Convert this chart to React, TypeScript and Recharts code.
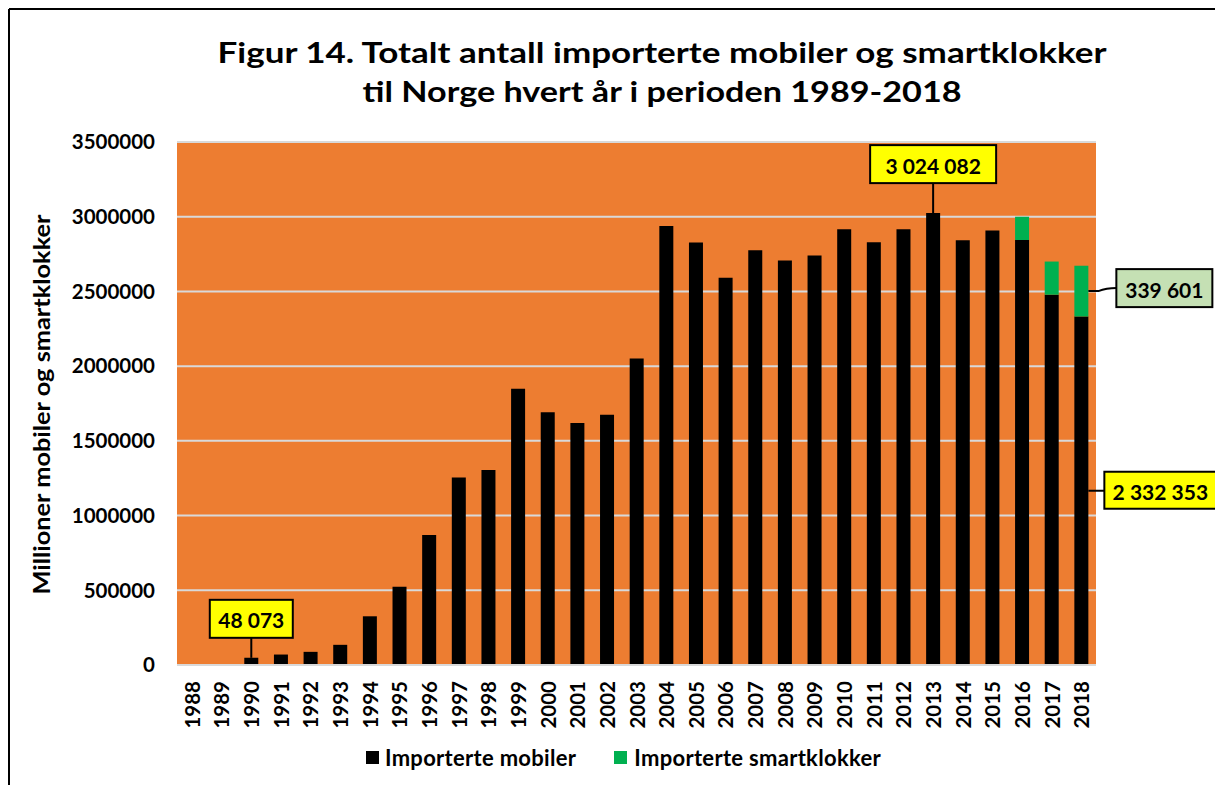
import React from 'react';
import { BarChart, Bar, XAxis, YAxis, CartesianGrid, Legend } from 'recharts';

const years = ['1988','1989','1990','1991','1992','1993','1994','1995','1996','1997','1998','1999','2000','2001','2002','2003','2004','2005','2006','2007','2008','2009','2010','2011','2012','2013','2014','2015','2016','2017','2018'];
const mobiles = [0,0,48073,70000,88000,135000,326000,523000,870000,1255000,1305000,1848000,1692000,1619000,1674000,2051000,2938000,2827000,2591000,2776000,2707000,2740000,2916000,2829000,2916000,3024082,2842000,2907000,2844000,2478000,2332353];
const smartwatches = [0,0,0,0,0,0,0,0,0,0,0,0,0,0,0,0,0,0,0,0,0,0,0,0,0,0,0,0,156000,222000,339601];
const yTicks = [0,500000,1000000,1500000,2000000,2500000,3000000,3500000];
const titleLines = ['Figur 14. Totalt antall importerte mobiler og smartklokker', 'til Norge hvert år i perioden 1989-2018'];
const yAxisTitle = 'Millioner mobiler og smartklokker';
const seriesNames = ['Importerte mobiler', 'Importerte smartklokker'];
const mobileLabelYears = ['1990', '2013', '2018'];
const smartLabelYears = ['2018'];

const data = years.map((y, i) => ({ year: y, mobiles: mobiles[i], smart: smartwatches[i] }));

const FONT = 'Lato, "Open Sans", sans-serif';
const ORANGE = '#ED7D31';
const GREEN = '#00B050';
const GRID = '#D9D9D9';

const fmt = (v: number) => String(v).replace(/\B(?=(\d{3})+(?!\d))/g, ' ');

const Box = ({ x, y, w, h, fill, text }: any) => (
  <g>
    <rect x={x} y={y} width={w} height={h} fill={fill} stroke="#000" strokeWidth={2} />
    <text x={x + w / 2} y={y + h / 2 + 1} textAnchor="middle" dominantBaseline="central" fontFamily={FONT} fontWeight={700} fontSize={21} fill="#000">{text}</text>
  </g>
);

const getRect = (p: any) => {
  const vb = p.viewBox && p.viewBox.width !== undefined ? p.viewBox : p;
  let { x, y, width, height } = vb;
  if (height < 0) { y = y + height; height = -height; }
  return { x: Number(x), y: Number(y), w: Number(width), h: Number(height) };
};

const findIndex = (p: any, arr: number[]) => {
  if (p.payload && p.payload.year) return years.indexOf(p.payload.year);
  let v = p.value;
  if (Array.isArray(v)) v = v[1] - v[0];
  const i = arr.indexOf(Number(v));
  if (i >= 0) return i;
  return years.findIndex((_, k) => mobiles[k] + smartwatches[k] === Number(p.value));
};

const mobileLabel = (p: any) => {
  const idx = findIndex(p, mobiles);
  const year = years[idx];
  if (!mobileLabelYears.includes(year)) return null;
  const { x, y, w, h } = getRect(p);
  const text = fmt(mobiles[idx]);
  if (year === '2018') {
    const cy = y + h / 2;
    const bx = x + w + 16;
    return (
      <g key={`ml-${idx}`}>
        <line x1={x + w} y1={cy} x2={bx} y2={cy} stroke="#000" strokeWidth={2} />
        <Box x={bx} y={cy - 19} w={112} h={37} fill="#FFFF00" text={text} />
      </g>
    );
  }
  const cx = x + w / 2;
  const gap = year === '1990' ? 20 : 30;
  const bw = year === '1990' ? 83 : 126;
  return (
    <g key={`ml-${idx}`}>
      <line x1={cx} y1={y} x2={cx} y2={y - gap} stroke="#000" strokeWidth={2} />
      <Box x={cx - bw / 2} y={y - gap - 38} w={bw} h={38} fill="#FFFF00" text={text} />
    </g>
  );
};

const smartLabel = (p: any) => {
  const idx = findIndex(p, smartwatches);
  const year = years[idx];
  if (!smartLabelYears.includes(year)) return null;
  const { x, y, w, h } = getRect(p);
  const cy = y + h / 2;
  const bx = x + w + 28;
  return (
    <g key={`sl-${idx}`}>
      <path d={`M${x + w},${cy} L${x + w + 10},${cy} Q${x + w + 18},${cy - 3} ${bx},${cy - 3}`} stroke="#000" strokeWidth={2} fill="none" />
      <Box x={bx} y={cy - 22} w={96} h={38} fill="#C5E0B4" text={fmt(smartwatches[idx])} />
    </g>
  );
};

const XTick = ({ x, y, payload }: any) => (
  <text transform={`translate(${x},${y + 8}) rotate(-90)`} textAnchor="end" dominantBaseline="central" fontFamily={FONT} fontWeight={700} fontSize={20.5} fill="#000">{payload.value}</text>
);

const LegendContent = () => (
  <div style={{ display: 'flex', justifyContent: 'center', alignItems: 'center', height: 26, fontFamily: FONT, fontWeight: 700, fontSize: 22, letterSpacing: 0.3, color: '#000', paddingLeft: 74 }}>
    <span style={{ display: 'inline-block', width: 13, height: 13, background: '#000', marginRight: 6 }} />
    <span style={{ marginRight: 38 }}>{seriesNames[0]}</span>
    <span style={{ display: 'inline-block', width: 13, height: 13, background: GREEN, marginRight: 7 }} />
    <span>{seriesNames[1]}</span>
  </div>
);

export default function App() {
  return (
    <div style={{ position: 'fixed', left: 0, top: 0, width: 1215, height: 785, background: '#fff', overflow: 'hidden' }}>
      <svg width={1215} height={785} style={{ position: 'absolute', left: 0, top: 0 }}>
        <line x1={9} y1={9} x2={1215} y2={9} stroke="#000" strokeWidth={2} />
        <line x1={9} y1={9} x2={9} y2={785} stroke="#000" strokeWidth={2} />
        <text x={662} y={63} textAnchor="middle" fontFamily={FONT} fontWeight={700} fontSize={28} textLength={889} lengthAdjust="spacingAndGlyphs" fill="#000">{titleLines[0]}</text>
        <text x={662} y={102} textAnchor="middle" fontFamily={FONT} fontWeight={700} fontSize={28} textLength={599} lengthAdjust="spacingAndGlyphs" fill="#000">{titleLines[1]}</text>
      </svg>
      <div style={{ position: 'absolute', left: 0, top: 0 }}>
        <BarChart width={1215} height={785} data={data} margin={{ top: 142, right: 119, left: 77, bottom: 15 }} barSize={14}>
          <CartesianGrid vertical={false} stroke={GRID} strokeWidth={2} fill={ORANGE} />
          <XAxis dataKey="year" interval={0} height={79} tick={<XTick />} tickLine={false} axisLine={{ stroke: GRID, strokeWidth: 2 }} />
          <YAxis width={100} domain={[0, 3500000]} ticks={yTicks} interval={0} tickLine={false} axisLine={false} tickMargin={16}
            tick={{ fontFamily: FONT, fontWeight: 700, fontSize: 20.5, fill: '#000' }}
            label={{ content: (p: any) => (
              <text transform={`translate(${p.viewBox.x - 36},${p.viewBox.y + p.viewBox.height / 2 + 1}) rotate(-90)`} textAnchor="middle" dominantBaseline="central" fontFamily={FONT} fontWeight={700} fontSize={22} textLength={380} lengthAdjust="spacingAndGlyphs" fill="#000">{yAxisTitle}</text>
            ) }} />
          <Legend verticalAlign="bottom" height={26} content={<LegendContent />} />
          <Bar dataKey="mobiles" name={seriesNames[0]} stackId="a" fill="#000" isAnimationActive={false} label={mobileLabel} />
          <Bar dataKey="smart" name={seriesNames[1]} stackId="a" fill={GREEN} isAnimationActive={false} label={smartLabel} />
        </BarChart>
      </div>
    </div>
  );
}
